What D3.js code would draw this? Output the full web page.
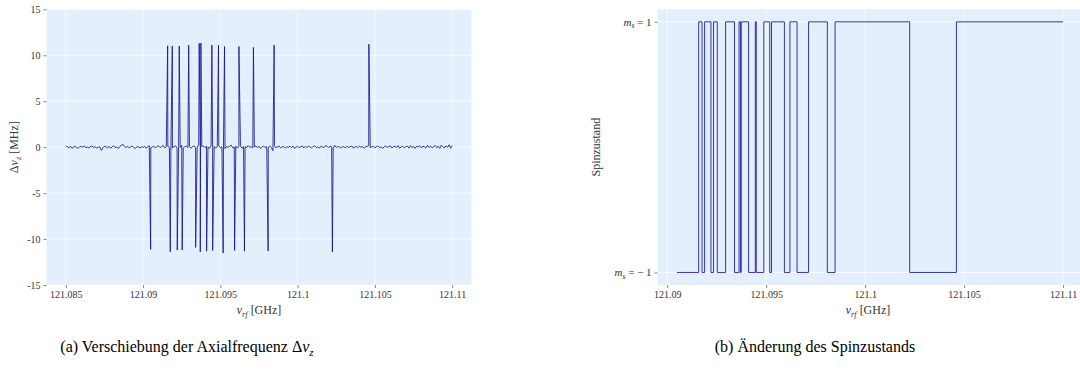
<!DOCTYPE html>
<html><head><meta charset="utf-8">
<script src="https://cdn.jsdelivr.net/npm/d3@7"></script>
<style>
html,body{margin:0;padding:0;background:#fff;}
svg{display:block;font-family:"Liberation Serif","Times New Roman",serif;}
</style></head><body>
<svg id="fig" width="1080" height="370"></svg>
<script>
// Axial frequency shift, sampled every 100 kHz from 121.085 GHz (MHz)
const baseStart = 121.085;
const baseStep = 0.0001;
const baseShift = [
  0.12, 0.05,-0.08, 0.10,-0.14, 0.02, 0.07,-0.05,-0.12, 0.04,
  0.09,-0.03, 0.15,-0.06, 0.01,-0.10, 0.08, 0.13,-0.04, 0.06,
 -0.11,-0.02, 0.05,-0.35,-0.08, 0.11, 0.03,-0.07, 0.09,-0.13,
  0.04, 0.14,-0.06, 0.02,-0.15, 0.08, 0.21, 0.30, 0.06,-0.04,
  0.10,-0.09, 0.03, 0.12,-0.05,-0.14, 0.07, 0.01,-0.08, 0.05,
 -0.03, 0.09,-0.12, 0.04, 0.16,-0.06, 0.02, 0.11,-0.10, 0.07,
  0.14,-0.04, 0.06, 0.18,-0.07, 0.03, 0.10,-0.02, 0.12,-0.09,
  0.05, 0.15,-0.11, 0.08,-0.03, 0.20,-0.08, 0.04, 0.11,-0.05,
  0.09,-0.12, 0.06, 0.13,-0.04, 0.02, 0.24,-0.10, 0.07, 0.12,
 -0.06, 0.10, 0.03,-0.14, 0.18,-0.02, 0.08,-0.11, 0.05, 0.15,
 -0.08, 0.04, 0.12,-0.16, 0.06,-0.03, 0.10, 0.22,-0.07, 0.02,
  0.11,-0.09, 0.05, 0.14,-0.12, 0.03, 0.08,-0.05, 0.16,-0.02,
  0.07,-0.10, 0.04, 0.12,-0.06, 0.09,-0.13, 0.02, 0.10,-0.04,
  0.06,-0.08, 0.13,-0.05,-0.38, 0.15,-0.07, 0.04, 0.11,-0.09,
  0.03, 0.08,-0.11, 0.05,-0.02, 0.10,-0.06, 0.12,-0.14, 0.01,
  0.09,-0.05, 0.04, 0.13,-0.08, 0.06,-0.03, 0.11, 0.02,-0.10,
  0.07, 0.14,-0.04, 0.05,-0.12, 0.08, 0.03,-0.06, 0.16, 0.10,
 -0.07, 0.12, 0.04,-0.09, 0.20,-0.03, 0.07, 0.02,-0.11, 0.06,
  0.03,-0.08, 0.10,-0.04, 0.05, 0.12,-0.10, 0.01, 0.08,-0.05,
  0.11,-0.02, 0.06,-0.12, 0.04, 0.09, 0.15,-0.06, 0.03, 0.10,
 -0.08, 0.05, 0.13,-0.04, 0.02,-0.15, 0.07, 0.11,-0.03, 0.06,
  0.14,-0.09, 0.04, 0.10,-0.05, 0.18,-0.12, 0.03, 0.09,-0.07,
  0.05, 0.12,-0.10, 0.16,-0.04, 0.07,-0.13, 0.10, 0.02, 0.15,
 -0.06, 0.09, 0.04,-0.11, 0.20,-0.03, 0.12,-0.08, 0.06, 0.18,
 -0.05, 0.10,-0.14, 0.22, 0.03,-0.09, 0.15,-0.02, 0.26,-0.12,
  0.18
];

// Spin-flip events: frequency (GHz) and measured shift (MHz)
const spikeFreq = [
  121.09049, 121.09159, 121.09176, 121.09189, 121.09221, 121.09234,
  121.09253, 121.09295, 121.09340, 121.09363, 121.09370, 121.09374,
  121.09411, 121.09445, 121.09450, 121.09488, 121.09518, 121.09527,
  121.09592, 121.09620, 121.09656, 121.09714, 121.09809, 121.09848,
  121.10225, 121.10461
];
const spikeShift = [
  -11.13, 11.03, -11.39, 11.00, -11.20, 11.00,
  -11.20, 11.10, -10.92, 11.30, -11.39, 11.33,
  -11.32, 11.10, -11.24, 11.10, -11.53, 10.95,
  -11.24, 10.95, -11.32, 10.85, -11.28, 11.10,
  -11.39, 11.20
];

// Spin state after each change (GHz, m_s)
const spinFreq = [
  121.09049, 121.09159, 121.09176, 121.09189, 121.09221, 121.09234,
  121.09253, 121.09295, 121.09340, 121.09363, 121.09370, 121.09374,
  121.09411, 121.09445, 121.09450, 121.09488, 121.09518, 121.09527,
  121.09592, 121.09620, 121.09656, 121.09714, 121.09809, 121.09848,
  121.10225, 121.10461, 121.11000
];
const spinState = [
  -1, 1, -1, 1, -1, 1,
  -1, 1, -1, 1, -1, 1,
  -1, 1, -1, 1, -1, 1,
  -1, 1, -1, 1, -1, 1,
  -1, 1, 1
];

const shiftTicks = [-15, -10, -5, 0, 5, 10, 15];
const freqTicksA = [121.085, 121.09, 121.095, 121.1, 121.105, 121.11];
const freqTicksB = [121.09, 121.095, 121.1, 121.105, 121.11];
const spinTicks = [-1, 1];

const svg = d3.select("#fig");
const SERIF = "Liberation Serif";
const TICK_FS = 10, LABEL_FS = 12, CAP_FS = 16;
const fmtFreq = d => String(+d.toFixed(3));

// writes a run of text pieces (italic / subscript) into a <text>
function richText(sel, parts, fs) {
  parts.forEach(p => {
    const t = sel.append("tspan").text(p.t);
    if (p.i) t.attr("font-style", "italic");
    if (p.sub) t.attr("font-size", fs * 0.7).attr("dy", fs * 0.22);
    if (p.up) t.attr("dy", -fs * 0.22);
  });
  return sel;
}

function padDomain(ext, frac) {
  const span = ext[1] - ext[0];
  return [ext[0] - span * frac, ext[1] + span * frac];
}

function panel(box) {
  const g = svg.append("g").attr("font-family", SERIF);
  g.append("rect")
    .attr("x", box.left).attr("y", box.top)
    .attr("width", box.right - box.left).attr("height", box.bottom - box.top)
    .attr("fill", "#e3effd");
  return g;
}

function drawAxes(g, box, x, y, xTicks, yTicks, yFmt) {
  const grid = g.append("g").attr("stroke", "#ffffff").attr("stroke-width", 0.9).attr("opacity", 0.85);
  grid.selectAll(".gx").data(xTicks).join("line")
    .attr("x1", d => x(d)).attr("x2", d => x(d))
    .attr("y1", box.top).attr("y2", box.bottom);
  grid.selectAll(".gy").data(yTicks).join("line")
    .attr("x1", box.left).attr("x2", box.right)
    .attr("y1", d => y(d)).attr("y2", d => y(d));

  const xAxis = d3.axisBottom(x).tickValues(xTicks).tickSize(3).tickPadding(3).tickFormat(fmtFreq);
  const gx = g.append("g").attr("transform", `translate(0,${box.bottom})`).call(xAxis)
    .attr("font-family", SERIF).attr("font-size", TICK_FS);
  gx.select(".domain").remove();
  gx.selectAll(".tick line").attr("stroke", "#666").attr("stroke-width", 0.8);
  gx.selectAll(".tick text").attr("fill", "#333");

  const yAxis = d3.axisLeft(y).tickValues(yTicks).tickSize(3).tickPadding(3).tickFormat(yFmt || (d => String(d)));
  const gy = g.append("g").attr("transform", `translate(${box.left},0)`).call(yAxis)
    .attr("font-family", SERIF).attr("font-size", TICK_FS);
  gy.select(".domain").remove();
  gy.selectAll(".tick line").attr("stroke", "#666").attr("stroke-width", 0.8);
  gy.selectAll(".tick text").attr("fill", "#333");
  return gy;
}

// ---------- (a) axial frequency shift ----------
const boxA = {left: 46.5, right: 471.5, top: 9.3, bottom: 285};
const seriesA = baseShift.map((v, i) => ({f: baseStart + i * baseStep, v}))
  .concat(spikeFreq.map((f, i) => ({f, v: spikeShift[i]})))
  .sort((a, b) => a.f - b.f);
const xA = d3.scaleLinear()
  .domain(padDomain(d3.extent(seriesA, d => d.f), 0.05))
  .range([boxA.left, boxA.right]);
const yA = d3.scaleLinear().domain([-15, 15]).range([boxA.bottom, boxA.top]);
const gA = panel(boxA);
drawAxes(gA, boxA, xA, yA, freqTicksA, shiftTicks);
gA.append("path").datum(seriesA)
  .attr("fill", "none").attr("stroke", "#14148e").attr("stroke-width", 0.85)
  .attr("stroke-linejoin", "round")
  .attr("d", d3.line().x(d => xA(d.f)).y(d => yA(d.v)));

richText(gA.append("text").attr("x", (boxA.left + boxA.right) / 2).attr("y", 314)
  .attr("text-anchor", "middle").attr("font-size", LABEL_FS).attr("fill", "#333"),
  [{t: "ν", i: true}, {t: "rf", i: true, sub: true}, {t: " [GHz]", up: true}], LABEL_FS);
richText(gA.append("text").attr("transform", `translate(18,${(boxA.top + boxA.bottom) / 2}) rotate(-90)`)
  .attr("text-anchor", "middle").attr("font-size", LABEL_FS).attr("fill", "#333"),
  [{t: "Δ"}, {t: "ν", i: true}, {t: "z", i: true, sub: true}, {t: " [MHz]", up: true}], LABEL_FS);

// ---------- (b) spin state ----------
const boxB = {left: 657.6, right: 1082.4, top: 9.3, bottom: 285};
const seriesB = spinFreq.map((f, i) => ({f, s: spinState[i]}));
const xB = d3.scaleLinear()
  .domain(padDomain(d3.extent(seriesB, d => d.f), 0.05))
  .range([boxB.left, boxB.right]);
const yB = d3.scaleLinear().domain(padDomain([-1, 1], 0.05)).range([boxB.bottom, boxB.top]);
const gB = panel(boxB);
const gyB = drawAxes(gB, boxB, xB, yB, freqTicksB, spinTicks, () => "");
gyB.selectAll(".tick text").attr("font-size", 11).each(function(d) {
  richText(d3.select(this).text(null),
    [{t: "m", i: true}, {t: "s", i: true, sub: true}, {t: " = " + (d < 0 ? "− " : "") + "1", up: true}], 11);
});
gB.append("path").datum(seriesB)
  .attr("fill", "none").attr("stroke", "#2020a0").attr("stroke-width", 0.9)
  .attr("d", d3.line().curve(d3.curveStepAfter).x(d => xB(d.f)).y(d => yB(d.s)));

richText(gB.append("text").attr("x", 868).attr("y", 314)
  .attr("text-anchor", "middle").attr("font-size", LABEL_FS).attr("fill", "#333"),
  [{t: "ν", i: true}, {t: "rf", i: true, sub: true}, {t: " [GHz]", up: true}], LABEL_FS);
gB.append("text").attr("transform", `translate(600,${(boxB.top + boxB.bottom) / 2}) rotate(-90)`)
  .attr("text-anchor", "middle").attr("font-size", LABEL_FS).attr("fill", "#333").text("Spinzustand");

// ---------- captions ----------
const cap = svg.append("g").attr("font-family", SERIF).attr("font-size", CAP_FS).attr("fill", "#000");
richText(cap.append("text").attr("x", 187).attr("y", 352).attr("text-anchor", "middle"),
  [{t: "(a) Verschiebung der Axialfrequenz Δ"}, {t: "ν", i: true}, {t: "z", i: true, sub: true}], CAP_FS);
cap.append("text").attr("x", 815).attr("y", 352).attr("text-anchor", "middle")
  .text("(b) Änderung des Spinzustands");
</script>
</body></html>
